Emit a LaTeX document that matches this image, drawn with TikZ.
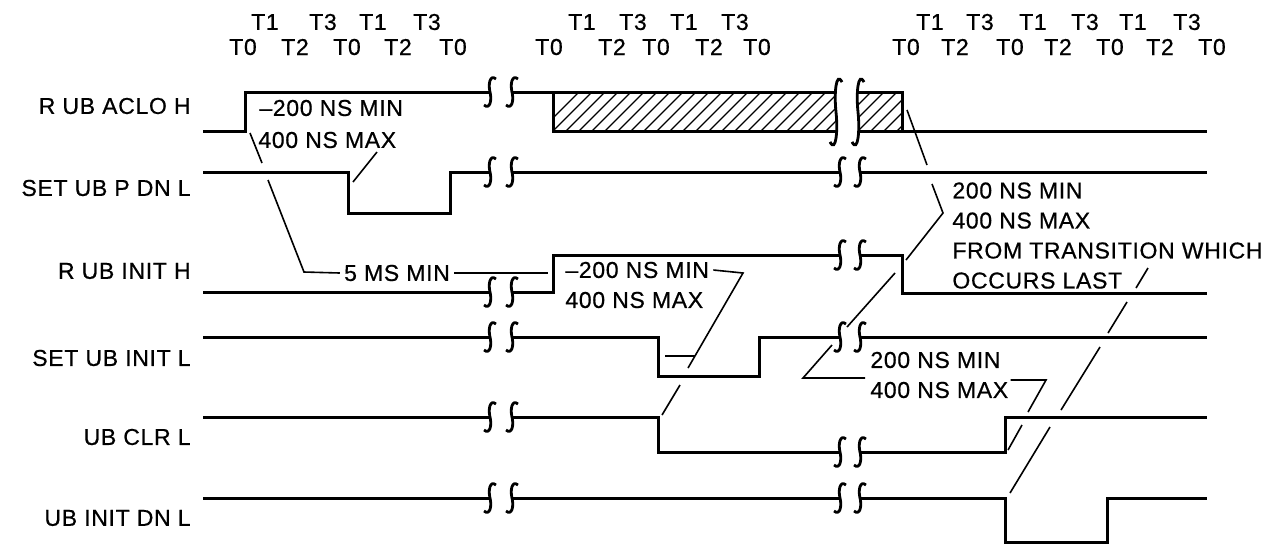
\documentclass[tikz,border=0pt]{standalone}
\usepackage{fontspec}
\setmainfont[LetterSpace=3, FakeBold=0.6]{Liberation Sans}
\usepackage{tikz}
\usetikzlibrary{positioning}
\tikzset{
  sig/.style={line width=1.5pt, line join=miter},
  lead/.style={line width=0.8pt},
  hatchline/.style={line width=0.6pt},
  txt/.style={font=\fontsize{11.5}{15}\selectfont, inner sep=0pt},
  brk/.pic={\draw[line width=1.4pt] (6,-13) .. controls (0,-18) and (-2,-8) .. (0,0) .. controls (2,8) and (0,18) .. (-6,13);}
}

\begin{document}
\begin{tikzpicture}
\begin{scope}[x=0.5pt,y=-0.5pt]
\useasboundingbox (0,0) rectangle (1273,548);
% clock phases
\foreach \x/\t [count=\i] in {265/T1,323/T3,373/T1,427/T3,582/T1,633/T3,684/T1,735/T3,930/T1,980/T3,1033/T1,1085/T3,1133/T1,1187/T3}
  \node[txt] (ta\i) at (\x,22) {\t};
\foreach \x/\t [count=\i] in {243/T0,295/T2,347/T0,398/T2,453/T0,549/T0,612/T2,656/T0,709/T2,757/T0,906/T0,955/T2,1010/T0,1058/T2,1110/T0,1160/T2,1212/T0}
  \node[txt] (tb\i) at (\x,47) {\t};
% signal names
\node[txt, anchor=east] (lblaclo) at (191,106) {R UB ACLO H};
\node[txt, anchor=east] (lblpdn) at (191,188) {SET UB P DN L};
\node[txt, anchor=east] (lblinith) at (191,271) {R UB INIT H};
\node[txt, anchor=east] (lblinitl) at (191,358) {SET UB INIT L};
\node[txt, anchor=east] (lblclr) at (191,437) {UB CLR L};
\node[txt, anchor=east] (lbldn) at (191,518) {UB INIT DN L};
% R UB ACLO H
\draw[sig] (203,131) -- (245,131) -- (245,92) -- (490,92);
\draw[sig] (512,92) -- (836,92);
\draw[sig] (553,92) -- (553,131) -- (836,131);
\draw[sig] (858,92) -- (902,92) -- (902,131) -- (1207,131);
\draw[sig] (858,131) -- (902,131);
\begin{scope}
\clip (553,92) rectangle (836,131);
\foreach \x in {540,553,...,840} \draw[hatchline] (\x,131) -- ++(39,-39);
\end{scope}
\begin{scope}
\clip (858,92) rectangle (902,131);
\foreach \x in {819,832,...,905} \draw[hatchline] (\x,131) -- ++(39,-39);
\end{scope}
\pic at (490,92) {brk};
\pic at (512,92) {brk};
\pic[yscale=2.3] at (836,112) {brk};
\pic[yscale=2.3] at (858,112) {brk};
% SET UB P DN L
\draw[sig] (203,172) -- (348,172) -- (348,213) -- (450,213) -- (450,172) -- (490,172);
\draw[sig] (512,172) -- (840,172);
\draw[sig] (860,172) -- (1207,172);
\pic at (490,172) {brk};
\pic at (512,172) {brk};
\pic at (840,172) {brk};
\pic at (860,172) {brk};
% R UB INIT H
\draw[sig] (203,292) -- (490,292);
\draw[sig] (512,292) -- (553,292) -- (553,255) -- (840,255);
\draw[sig] (860,255) -- (902,255) -- (902,293) -- (1207,293);
\pic at (490,292) {brk};
\pic at (512,292) {brk};
\pic at (840,255) {brk};
\pic at (860,255) {brk};
% SET UB INIT L
\draw[sig] (203,337) -- (490,337);
\draw[sig] (512,337) -- (658,337) -- (658,376) -- (759,376) -- (759,337) -- (840,337);
\draw[sig] (860,337) -- (1207,337);
\pic at (490,337) {brk};
\pic at (512,337) {brk};
\pic at (840,337) {brk};
\pic at (860,337) {brk};
% UB CLR L
\draw[sig] (203,417) -- (490,417);
\draw[sig] (512,417) -- (658,417) -- (658,452) -- (840,452);
\draw[sig] (860,452) -- (1005,452) -- (1005,417) -- (1207,417);
\pic at (490,417) {brk};
\pic at (512,417) {brk};
\pic at (840,452) {brk};
\pic at (860,452) {brk};
% UB INIT DN L
\draw[sig] (203,498) -- (490,498);
\draw[sig] (512,498) -- (840,498);
\draw[sig] (860,498) -- (1005,498) -- (1005,542) -- (1107,542) -- (1107,498) -- (1207,498);
\pic at (490,498) {brk};
\pic at (512,498) {brk};
\pic at (840,498) {brk};
\pic at (860,498) {brk};
% timing notes
\node[txt, anchor=west] (acmin) at (259,108) {\textendash200 NS MIN};
\node[txt, anchor=west] (acmax) at (258,140) {400 NS MAX};
\node[txt] (fivems) at (397,273) {5 MS MIN};
\node[txt, anchor=west] (inmin) at (565,270) {\textendash200 NS MIN};
\node[txt, anchor=west] (inmax) at (565,300) {400 NS MAX};
\node[txt, anchor=north west, align=left] (lastnote) at (952,182) {200 NS MIN\\400 NS MAX\\FROM TRANSITION WHICH\\OCCURS LAST};
\node[txt, anchor=west] (clrmin) at (870,360) {200 NS MIN};
\node[txt, anchor=west] (clrmax) at (870,390) {400 NS MAX};
\draw[lead] (250,133) -- (262,163);
\draw[lead] (268,180) -- (304,272) -- ([xshift=-2pt]fivems.west);
\draw[lead] ([xshift=2pt]fivems.east) -- (548,273);
\draw[lead] (377,152) -- (353,182);
\draw[lead] ([xshift=2pt]inmin.east) -- (743,273) -- (688,368);
\draw[lead] (680,385) -- (662,415);
\draw[lead] (665,356) -- (695,356);
\draw[lead] (907,110) -- (927,165);
\draw[lead] (932,184) -- (943,213) -- (906,260);
\draw[lead] (832,345) -- (803,378) -- (865,378);
\draw[lead] (847,327) -- (895,273);
\draw[lead] ([xshift=1pt]clrmax.east |- 0,380) -- (1046,380) -- (1028,412);
\draw[lead] (1022,425) -- (1008,450);
\draw[lead] (1148,268) -- (1136,288);
\draw[lead] (1127,302) -- (1108,333);
\draw[lead] (1100,347) -- (1061,410);
\draw[lead] (1050,427) -- (1010,493);
\end{scope}
\end{tikzpicture}
\end{document}
